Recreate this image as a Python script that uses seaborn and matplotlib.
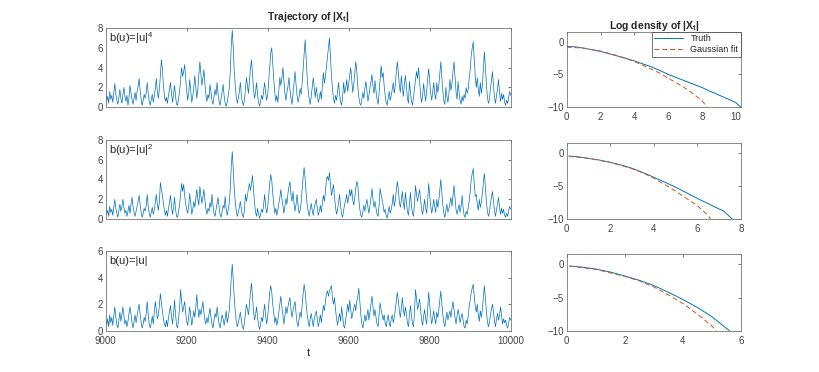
import numpy as np
import matplotlib
matplotlib.use('Agg')
import matplotlib.pyplot as plt
import seaborn as sns

# time grid of the trajectories (step 2.5)
t = np.arange(9000, 10000.1, 2.5)

# |X_t| for b(u)=|u|^4
traj_u4 = [
    1.4, 0.6, 1.1, 0.4, 1.6, 0.8, 1.2, 0.5, 1.5, 2.4, 1.3, 0.7, 0.3, 1.0, 1.8, 0.9, 0.4, 1.3, 2.0, 1.1,
    0.6, 1.2, 0.2, 1.0, 2.2, 1.4, 0.8, 0.3, 0.9, 1.5, 0.7, 1.6, 2.1, 2.9, 1.7, 0.8, 0.2, 0.7, 1.3, 0.9,
    1.5, 2.5, 1.4, 0.6, 0.2, 0.8, 1.3, 0.5, 1.1, 1.9, 2.9, 1.6, 0.9, 1.8, 3.2, 4.8, 3.9, 2.2, 1.2, 0.6,
    1.0, 0.4, 1.2, 1.8, 2.5, 1.4, 0.5, 1.3, 2.2, 1.1, 0.3, 0.2, 0.9, 1.6, 2.8, 4.0, 3.1, 3.6, 4.3, 2.9,
    1.6, 0.7, 1.5, 2.8, 1.6, 0.5, 1.1, 2.0, 3.2, 2.1, 0.9, 1.8, 3.3, 4.6, 3.4, 2.2, 2.9, 3.8, 2.4, 1.2,
    0.6, 1.3, 0.9, 2.3, 1.5, 0.7, 0.3, 1.1, 1.8, 1.2, 2.5, 1.4, 0.6, 0.2, 0.9, 1.6, 2.3, 1.1, 0.4, 0.1,
    0.5, 1.2, 1.9, 3.5, 6.2, 7.8, 5.9, 3.6, 2.1, 1.0, 0.4, 0.9, 1.6, 2.5, 1.2, 0.5, 0.2, 0.7, 1.8, 3.0,
    2.2, 1.4, 2.6, 3.9, 4.8, 3.3, 1.8, 0.9, 1.5, 2.5, 1.3, 0.5, 0.1, 0.6, 1.2, 0.8, 1.7, 2.5, 1.4, 0.7,
    1.3, 2.6, 4.1, 5.5, 6.0, 4.4, 2.8, 1.5, 0.6, 1.2, 0.5, 1.8, 3.0, 2.2, 2.9, 4.0, 2.7, 1.4, 0.7, 1.5,
    2.1, 3.0, 1.8, 0.9, 0.3, 1.4, 2.6, 3.6, 2.3, 1.2, 0.5, 1.0, 1.9, 1.3, 2.4, 3.8, 5.4, 6.8, 5.0, 3.0,
    1.7, 0.8, 0.3, 1.1, 2.1, 3.0, 1.9, 1.0, 2.0, 1.2, 0.5, 0.9, 1.6, 0.8, 2.2, 3.5, 2.4, 3.1, 4.1, 5.2,
    6.1, 7.0, 5.0, 3.1, 1.8, 0.9, 0.4, 1.2, 0.7, 1.6, 2.5, 1.3, 0.5, 0.2, 1.1, 2.5, 1.4, 1.9, 2.8, 1.6,
    2.4, 3.2, 4.0, 2.8, 1.5, 2.3, 3.5, 4.6, 3.7, 2.1, 1.0, 0.4, 0.2, 0.8, 1.5, 0.9, 1.9, 2.6, 1.7, 0.6,
    1.2, 2.0, 2.6, 3.3, 2.1, 1.4, 2.7, 1.6, 0.8, 0.3, 1.4, 2.8, 4.2, 3.0, 3.5, 2.2, 1.2, 0.5, 0.2, 0.9,
    1.6, 0.7, 1.2, 1.8, 2.5, 1.4, 2.2, 3.5, 4.6, 3.6, 2.2, 1.5, 3.2, 2.0, 1.1, 2.4, 3.2, 2.0, 0.9, 0.4,
    2.6, 1.5, 0.6, 0.2, 1.0, 1.9, 2.8, 3.6, 2.9, 4.0, 2.6, 1.3, 0.5, 1.2, 2.4, 1.4, 0.6, 1.7, 2.9, 3.9,
    2.6, 1.4, 0.7, 1.6, 2.5, 1.3, 0.8, 2.5, 1.5, 2.2, 3.4, 4.6, 3.0, 1.6, 0.6, 0.3, 2.0, 1.1, 0.5, 1.4,
    2.8, 1.7, 2.4, 3.6, 4.6, 3.1, 1.6, 0.8, 2.6, 1.5, 0.7, 0.3, 1.1, 0.6, 1.3, 0.9, 2.0, 1.4, 1.8, 2.9,
    3.8, 5.2, 6.0, 6.6, 4.8, 3.1, 2.0, 3.0, 1.8, 1.1, 2.5, 1.4, 2.2, 3.8, 5.6, 4.1, 2.3, 1.0, 0.4, 0.8,
    1.9, 2.7, 3.6, 2.2, 1.0, 0.4, 1.2, 1.9, 2.8, 1.5, 0.6, 1.4, 0.8, 1.3, 0.5, 0.2, 0.7, 0.4, 1.0, 1.6,
    1.2,
]

# |X_t| for b(u)=|u|^2
traj_u2 = [
    1.2, 0.5, 0.9, 0.3, 1.3, 0.7, 1.0, 0.4, 1.2, 2.0, 1.1, 0.6, 0.2, 0.9, 1.5, 0.8, 1.3, 2.0, 1.2, 0.6,
    0.9, 0.3, 0.8, 1.4, 0.6, 1.5, 2.2, 1.3, 0.7, 0.3, 0.8, 1.3, 1.8, 2.4, 1.5, 0.7, 0.2, 0.6, 1.1, 0.8,
    1.4, 2.5, 1.3, 0.6, 0.2, 0.7, 1.2, 0.5, 1.0, 1.7, 2.5, 1.5, 0.9, 1.7, 3.7, 3.0, 2.4, 1.6, 0.9, 0.4,
    0.9, 0.3, 1.1, 1.7, 2.4, 1.3, 0.5, 1.2, 2.2, 1.0, 0.3, 0.2, 0.8, 1.5, 2.6, 3.6, 2.8, 3.5, 2.4, 1.5,
    1.0, 0.6, 1.4, 2.6, 1.5, 0.5, 1.0, 1.8, 1.2, 2.1, 3.0, 2.0, 1.4, 3.3, 2.4, 1.6, 2.2, 3.0, 1.9, 1.0,
    0.5, 1.1, 0.8, 1.7, 1.2, 2.5, 1.4, 0.6, 0.3, 1.0, 1.6, 2.2, 1.2, 0.5, 0.2, 0.8, 1.4, 1.1, 2.3, 1.0,
    0.4, 1.0, 1.6, 3.0, 5.3, 6.8, 5.0, 3.0, 1.7, 0.8, 0.3, 0.7, 1.2, 1.8, 1.0, 0.4, 0.2, 0.9, 2.5, 1.8,
    2.4, 3.1, 3.6, 2.9, 3.6, 4.4, 3.0, 1.6, 0.7, 0.3, 1.1, 0.5, 0.1, 0.5, 1.0, 0.7, 1.5, 2.5, 1.3, 0.6,
    1.2, 2.4, 3.6, 4.5, 3.9, 2.6, 1.5, 0.6, 1.1, 0.4, 0.9, 1.6, 2.2, 3.0, 2.1, 1.4, 0.6, 1.3, 2.1, 1.5,
    2.6, 3.3, 3.8, 2.4, 1.8, 2.8, 1.6, 0.8, 1.5, 2.5, 1.4, 0.6, 0.9, 1.6, 2.9, 4.3, 5.2, 4.0, 2.6, 1.4,
    0.8, 0.3, 1.0, 1.6, 0.9, 0.4, 1.2, 1.6, 2.0, 1.1, 0.4, 0.8, 1.4, 0.7, 1.6, 2.4, 1.8, 2.8, 4.0, 4.3,
    3.9, 4.7, 3.6, 2.4, 2.9, 3.5, 2.2, 1.2, 0.5, 1.0, 1.7, 2.5, 1.3, 0.5, 0.2, 0.9, 1.5, 1.9, 2.5, 1.6,
    2.2, 3.0, 2.3, 3.0, 2.0, 1.4, 2.2, 3.1, 3.8, 3.4, 2.0, 1.0, 0.4, 0.2, 0.8, 1.4, 0.8, 1.5, 2.0, 1.2,
    0.6, 1.4, 2.2, 3.1, 2.0, 1.2, 1.8, 1.1, 0.5, 0.3, 1.4, 3.1, 2.5, 2.0, 1.4, 0.7, 1.0, 0.4, 0.1, 0.7,
    1.3, 0.6, 1.0, 1.6, 2.5, 1.3, 1.9, 2.9, 3.8, 3.0, 1.8, 1.2, 1.9, 2.8, 1.6, 1.0, 2.7, 1.7, 0.8, 0.4,
    1.5, 2.7, 1.4, 0.6, 0.3, 1.6, 3.4, 2.5, 1.8, 2.4, 3.0, 2.0, 1.0, 0.5, 1.2, 2.0, 1.1, 0.6, 1.8, 3.6,
    2.4, 1.3, 0.6, 1.2, 2.0, 1.2, 0.7, 2.0, 1.2, 1.9, 3.0, 4.0, 2.7, 1.4, 0.6, 0.2, 0.9, 1.5, 0.7, 1.1,
    1.6, 2.2, 1.3, 2.4, 3.4, 2.2, 1.0, 0.5, 1.0, 1.5, 0.7, 1.3, 2.4, 1.2, 0.4, 0.2, 0.8, 0.5, 1.2, 1.8,
    2.8, 4.0, 4.6, 5.1, 3.6, 2.3, 2.5, 1.5, 0.9, 2.0, 1.2, 1.7, 2.6, 3.7, 4.6, 3.2, 1.8, 0.8, 0.3, 0.7,
    1.6, 2.2, 2.8, 1.8, 0.8, 0.3, 1.0, 1.6, 2.2, 1.2, 0.5, 1.1, 0.6, 1.0, 0.4, 0.2, 0.6, 0.3, 0.9, 1.3,
    1.0,
]

# |X_t| for b(u)=|u|
traj_u1 = [
    1.0, 0.4, 0.9, 0.3, 1.2, 0.6, 1.0, 0.4, 1.1, 1.8, 1.0, 0.5, 0.2, 0.8, 1.4, 0.7, 1.2, 1.8, 1.1, 0.5,
    0.8, 0.3, 0.7, 1.3, 1.8, 1.2, 0.6, 0.2, 0.7, 1.2, 0.6, 1.1, 1.6, 2.0, 1.3, 0.6, 0.2, 0.5, 1.0, 0.7,
    1.3, 2.2, 1.2, 0.5, 0.2, 0.6, 1.1, 0.5, 1.4, 2.2, 1.6, 0.9, 1.2, 1.9, 2.8, 2.1, 1.5, 0.9, 0.5, 0.3,
    0.8, 0.3, 1.0, 1.4, 1.9, 1.1, 0.5, 1.3, 2.3, 1.2, 0.4, 0.2, 0.9, 1.8, 3.1, 2.2, 1.4, 1.8, 2.2, 1.3,
    0.7, 0.4, 1.1, 1.8, 1.1, 0.4, 0.9, 1.5, 1.0, 1.8, 2.7, 1.7, 1.0, 1.6, 1.2, 1.7, 2.2, 1.4, 0.8, 0.5,
    1.0, 0.6, 1.2, 1.7, 1.0, 0.5, 0.2, 0.8, 1.3, 1.0, 1.8, 1.1, 0.5, 0.2, 0.7, 1.2, 0.9, 0.4, 0.9, 1.5,
    0.6, 1.0, 1.5, 2.6, 4.0, 5.0, 3.8, 2.4, 1.4, 0.7, 0.3, 0.6, 1.0, 1.4, 0.8, 0.3, 0.1, 0.6, 1.3, 2.0,
    1.6, 1.2, 2.0, 2.9, 3.6, 2.5, 1.5, 0.8, 1.2, 1.8, 1.0, 0.4, 0.1, 0.5, 1.0, 0.7, 1.4, 2.0, 1.1, 0.5,
    1.1, 2.0, 2.9, 3.4, 2.9, 2.0, 1.3, 0.6, 1.0, 0.4, 0.8, 1.4, 2.0, 2.6, 1.8, 1.2, 0.5, 1.1, 1.8, 1.3,
    1.8, 2.2, 2.5, 1.6, 1.0, 1.5, 1.9, 2.2, 1.3, 0.6, 0.3, 0.9, 1.4, 1.0, 1.9, 2.8, 3.5, 2.9, 2.0, 1.2,
    0.7, 0.3, 0.9, 1.3, 0.8, 0.3, 0.9, 1.2, 1.5, 0.9, 0.3, 0.7, 1.2, 0.6, 1.3, 1.9, 1.5, 2.2, 2.8, 3.0,
    2.6, 3.0, 3.2, 3.4, 2.4, 2.0, 2.5, 1.6, 0.9, 0.4, 0.9, 1.3, 0.7, 1.8, 1.1, 0.4, 0.2, 0.8, 1.4, 2.0,
    1.4, 2.3, 1.6, 0.9, 1.3, 1.7, 2.0, 1.5, 2.2, 2.6, 3.2, 2.2, 1.2, 0.5, 0.2, 0.7, 1.2, 0.7, 1.1, 1.6,
    0.8, 1.4, 2.0, 2.6, 1.8, 1.1, 1.6, 1.0, 0.5, 0.3, 1.2, 2.1, 1.6, 1.2, 0.8, 1.2, 0.6, 0.3, 0.8, 1.2,
    0.6, 0.3, 0.9, 1.2, 0.6, 1.0, 1.6, 2.2, 2.9, 2.3, 1.5, 1.0, 1.7, 2.5, 1.6, 1.1, 1.8, 1.2, 0.6, 0.3,
    1.2, 1.9, 1.1, 0.5, 0.3, 1.4, 3.1, 2.4, 1.6, 1.9, 2.4, 1.6, 0.8, 0.4, 1.1, 1.6, 0.9, 0.5, 1.6, 2.9,
    2.0, 1.1, 0.5, 1.0, 1.5, 0.9, 0.5, 1.4, 1.0, 1.6, 2.3, 3.0, 2.0, 1.2, 0.6, 0.3, 0.9, 1.4, 0.8, 1.2,
    1.5, 1.0, 1.7, 2.2, 1.6, 1.0, 0.5, 1.1, 1.6, 1.2, 0.6, 1.0, 1.3, 0.8, 0.3, 0.2, 0.8, 0.5, 1.1, 1.8,
    2.3, 2.9, 3.2, 3.5, 2.6, 1.8, 1.4, 2.0, 1.2, 0.7, 1.5, 1.0, 1.6, 2.5, 3.4, 2.4, 1.5, 0.7, 0.3, 0.6,
    1.2, 1.6, 2.0, 1.4, 0.7, 0.3, 0.9, 1.3, 0.8, 1.2, 1.8, 1.1, 0.5, 0.9, 0.6, 0.8, 0.4, 0.2, 0.6, 1.0,
    0.8,
]

# log densities (truth and gaussian fit)
dens_x_u4 = [0, 0.5, 1, 1.5, 2, 2.5, 3, 3.5, 4, 4.5, 5, 5.5, 6, 6.5, 7, 7.5, 8, 8.5, 9, 9.5, 10, 10.3]
dens_truth_u4 = [-0.75, -0.8, -1.0, -1.25, -1.5, -1.85, -2.2, -2.55, -2.95, -3.4, -3.85, -4.4,
                 -5.0, -5.5, -6.0, -6.5, -7.0, -7.6, -8.15, -8.7, -9.3, -10.0]
gauss_x_u4 = [0, 1, 2, 3, 4, 4.5, 5, 5.5, 6, 6.5, 7, 7.5, 8, 8.3]
dens_gauss_u4 = [-0.85, -1.0, -1.45, -2.15, -3.05, -3.6, -4.2, -4.8, -5.6, -6.3, -7.1, -8.0, -9.0, -10.0]

dens_x_u2 = [0.1, 0.5, 1, 1.5, 2, 2.5, 3, 3.5, 4, 4.5, 5, 5.5, 6, 6.5, 7, 7.2, 7.6]
dens_truth_u2 = [-0.5, -0.6, -0.85, -1.1, -1.45, -1.85, -2.35, -3.0, -3.7, -4.45, -5.2, -6.05,
                 -6.9, -7.7, -8.5, -8.8, -10.0]
gauss_x_u2 = [0.1, 1, 2, 3, 3.5, 4, 4.5, 5, 5.5, 6, 6.5, 6.6]
dens_gauss_u2 = [-0.55, -0.85, -1.45, -2.4, -3.05, -3.85, -4.8, -5.8, -6.9, -8.0, -9.5, -10.0]

dens_x_u1 = [0.1, 0.5, 1, 1.5, 2, 2.5, 3, 3.5, 4, 4.5, 5, 5.6]
dens_truth_u1 = [-0.25, -0.4, -0.7, -1.15, -1.75, -2.4, -3.2, -4.2, -5.3, -6.5, -7.9, -10.0]
gauss_x_u1 = [0.1, 1, 2, 2.5, 3, 3.5, 4, 4.5, 5, 5.15]
dens_gauss_u1 = [-0.25, -0.75, -1.8, -2.5, -3.4, -4.6, -5.9, -7.5, -9.3, -10.0]

labels = [r'b(u)=|u|$^4$', r'b(u)=|u|$^2$', r'b(u)=|u|']
traj_ylim = [8, 8, 6]
dens_xlim = [10.3, 8, 6]

sns.set_theme(style='white', rc={
    'xtick.direction': 'in', 'ytick.direction': 'in',
    'xtick.major.size': 2.5, 'ytick.major.size': 2.5,
    'xtick.major.width': 0.5, 'ytick.major.width': 0.5,
    'xtick.color': '#444444', 'ytick.color': '#444444',
    'xtick.labelsize': 7, 'ytick.labelsize': 7,
    'axes.edgecolor': '#777777', 'axes.linewidth': 0.6,
    'xtick.major.pad': 3.5, 'ytick.major.pad': 2,
})
plt.rcParams['font.family'] = ['Liberation Sans', 'DejaVu Sans']
plt.rcParams['mathtext.fontset'] = 'custom'
plt.rcParams['mathtext.rm'] = 'Liberation Sans'
plt.rcParams['mathtext.bf'] = 'Liberation Sans:bold'
plt.rcParams['mathtext.default'] = 'regular'

blue = '#0072BD'
orange = '#D95319'

fig = plt.figure(figsize=(8.2, 3.72), dpi=100)

left_rects = [[0.1289, 0.7116, 0.4939, 0.2132],
              [0.1289, 0.4105, 0.4939, 0.2140],
              [0.1289, 0.1110, 0.4939, 0.2140]]
right_rects = [[0.6911, 0.7116, 0.2126, 0.2032],
               [0.6911, 0.4113, 0.2126, 0.2048],
               [0.6911, 0.1110, 0.2126, 0.2050]]

trajs = [traj_u4, traj_u2, traj_u1]
truths = [(dens_x_u4, dens_truth_u4), (dens_x_u2, dens_truth_u2), (dens_x_u1, dens_truth_u1)]
gausses = [(gauss_x_u4, dens_gauss_u4), (gauss_x_u2, dens_gauss_u2), (gauss_x_u1, dens_gauss_u1)]

for i in range(3):
    ax = fig.add_axes(left_rects[i])
    sns.lineplot(x=t, y=trajs[i], ax=ax, color=blue, linewidth=0.5, estimator=None)
    ax.set_xlim(9000, 10000)
    ax.set_ylim(0, traj_ylim[i])
    ax.set_xticks(np.arange(9000, 10001, 200))
    ax.set_yticks(np.arange(0, traj_ylim[i] + 1, 2))
    ax.tick_params(top=True, right=True)
    if i < 2:
        ax.set_xticklabels([])
    else:
        ax.set_xlabel('t', fontsize=8, labelpad=2)
    ax.text(0.008, 0.87, labels[i], transform=ax.transAxes, fontsize=8, va='center', ha='left')
    if i == 0:
        ax.set_title(r'Trajectory of |X$_\mathbf{t}$|', fontsize=7.5, fontweight='bold', pad=6)

    ax2 = fig.add_axes(right_rects[i])
    sns.lineplot(x=truths[i][0], y=truths[i][1], ax=ax2, color=blue, linewidth=0.7,
                 estimator=None, sort=False, label='Truth')
    sns.lineplot(x=gausses[i][0], y=gausses[i][1], ax=ax2, color=orange, linewidth=0.7,
                 estimator=None, sort=False, label='Gaussian fit', dashes=False, linestyle=(0, (5, 3)))
    ax2.set_xlim(0, dens_xlim[i])
    ax2.set_ylim(-10, 1.5)
    ax2.set_yticks([-10, -5, 0])
    ax2.set_xticks(np.arange(0, dens_xlim[i] + 0.01, 2))
    ax2.tick_params(top=True, right=True)
    if i == 0:
        ax2.set_title(r'Log density of |X$_\mathbf{t}$|', fontsize=7.5, fontweight='bold', pad=2)
        leg = ax2.legend(loc='upper right', fontsize=6.5, frameon=True, fancybox=False,
                         borderaxespad=0.0, handlelength=3.2, borderpad=0.3, labelspacing=0.2)
        leg.get_frame().set_edgecolor('#333333')
        leg.get_frame().set_linewidth(0.6)
    else:
        ax2.get_legend().remove()

fig.savefig('out.png', dpi=100)
